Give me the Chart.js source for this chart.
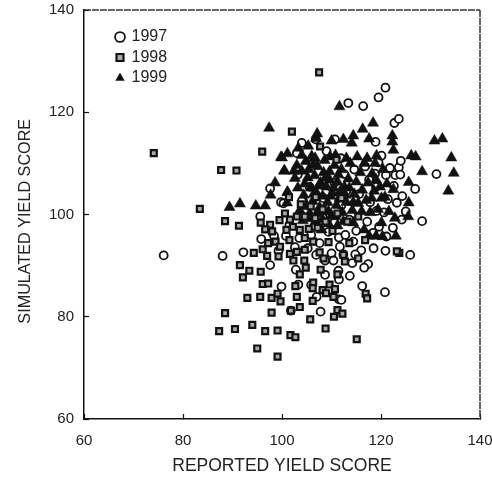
<!DOCTYPE html>
<html>
<head>
<meta charset="utf-8">
<script src="https://cdn.jsdelivr.net/npm/chart.js@4"></script>
<style>
  html, body { margin: 0; padding: 0; background: #fff; }
  #wrap { width: 492px; height: 477px; }
</style>
</head>
<body>
<div id="wrap"><canvas id="yieldChart" width="492" height="477"></canvas></div>
<script>
// values: [reported, simulated]
const years = ['1997', '1998', '1999'];
const xTicks = [60, 80, 100, 120, 140];
const yTicks = [60, 80, 100, 120, 140];

const points1997 = [
  [76.1,92],[88,91.9],[92.2,92.6],[95.8,95.2],[97.6,105.1],[99.8,102.4],[95.6,99.6],[97.6,90.1],[99.9,85.9],[99.3,92.9],
  [101.8,81.2],[102.8,89.2],[103.3,86.3],[103,112],[104,114],[104.3,102.5],[104,102.6],[100.3,102.2],[105.9,86.2],[105.9,96],
  [106.8,114.7],[106.9,92.1],[107,83.9],[107.8,81],[108.7,91],[108.7,88.2],[110,92.4],[110.4,91],[110.7,114.7],[111.4,89],
  [111.5,87.3],[111.5,83.4],[112,83.3],[111.5,95.5],[111.7,93.7],[111.9,111],[112,101.8],[112.6,107.9],[113.4,121.8],[113.7,88],
  [114.2,90.5],[114.4,94.7],[116.2,86],[116.4,121.2],[117.4,90.3],[117.6,106.8],[118.5,93.4],[118.9,114.2],[119.1,100.7],[119.5,122.9],
  [119.5,110.2],[120.1,111.5],[120.8,84.8],[120.9,92.9],[120.9,124.8],[121,107.7],[121.1,95.7],[121.8,109.1],[122.7,117.9],[122.9,107.7],
  [123.2,102.3],[123.6,118.7],[123.6,109.2],[123.9,107.8],[124,110.5],[125.9,92.1],[126.9,105],[128.3,98.7],[131.2,107.9],[124.3,103.6],
  [101.5,98],[103.5,95.4],[105.2,93.4],[106.6,97.8],[108.2,99.4],[109.4,96.6],[110.6,98.4],[112.8,96],[113.6,99],[115,96.8],
  [116,93],[117.2,98.6],[118.4,96.4],[119.6,97.6],[115.6,104],[117.8,102.4],[119,105.4],[121.4,103],[122.6,105.6],[113,104.6],
  [108.4,103.2],[105.6,105.4],[103.2,107.8],[110.6,106.2],[106.2,110],[109,112.4],[114.6,108.8],[116.8,109.4],[118.8,108],[120.6,100.4],
  [122.4,97.4],[124.2,99],[125,100.6],[102.6,93.6],[100.8,95.8],[98.4,95.8],[112.4,92.2],[114.8,92.2],[116.6,89.6],[107.6,94.4]
];

const points1998 = [
  [74.1,112],[83.4,101.1],[87.7,108.7],[90.8,108.6],[96,112.3],[88.5,98.7],[91.3,97.8],[102,116.2],[107.5,127.8],[107.7,113.3],
  [111,110.7],[87.3,77.2],[88.5,80.7],[90.5,77.6],[94,78.4],[96.6,77.2],[99.1,77.3],[95,73.8],[99.1,72.2],[97.9,80.8],
  [101.8,81.2],[101.7,76.4],[102.7,76],[103.6,81.9],[105.7,79.5],[108.8,77.7],[110.5,80],[111.2,81.3],[112.2,80.6],[115.1,75.6],
  [91.5,90.1],[92.1,87.7],[93.4,89],[95.7,88.8],[96.1,86.4],[97.2,86.5],[93,83.7],[95.6,83.9],[97.9,83.7],[99.1,84.5],
  [99.7,83],[103,83.9],[102.7,86],[106.3,86.7],[106.2,85.6],[106.2,83.1],[108.2,85.2],[109.6,86.3],[108.9,84.6],[110.7,85.4],
  [110.4,83.9],[116.9,84.5],[117.2,83.6],[107.8,89.2],[111.2,88.3],[103.6,88.3],[104.8,89.6],[104.5,91],[97,91.9],[94.3,92.5],
  [96.1,93.2],[97.2,94.4],[98.7,94.7],[99.3,91.8],[99.6,93.7],[101.5,95],[101.6,92.3],[102.3,91],[103,92.7],[104.6,93.1],
  [106.3,94.7],[108.4,91.4],[112.4,92.1],[112.7,90.8],[115.4,91.4],[123.7,92.5],[123.2,92.8],[116.8,95],[99.5,98.9],[97.6,98],
  [96.6,97.1],[98,96.7],[95.7,98.4],[100.9,97],[101.6,99],[100.6,100.2],[103,99.6],[104.6,99.6],[106.7,99.3],[102.2,97.6],
  [103.6,97],[105.4,97.2],[107.2,97.4],[108.8,98.6],[110.2,96.8],[105.8,101.6],[108.2,101],[103.8,102],[106.8,103.4],[104.6,95.4],
  [109.4,94.6],[111.2,100.2],[113.2,98.6],[112,103.2],[101.4,103.4],[115.4,99.6],[113.6,94.4],[107.6,92.6]
];

const points1999 = [
  [89.4,101.4],[91.5,102.1],[94.7,101.7],[96.6,101.7],[97.4,116.9],[97.7,103.8],[98.6,106.2],[99.8,111.2],[100.5,108.6],[101.1,111.9],
  [101.1,104.3],[101,102.3],[100,111.1],[100.4,108.5],[102.4,108.5],[102.6,107.1],[101.1,104.4],[103.3,113],[104,111.6],[104,108.5],
  [105.3,113.4],[106.3,109.7],[106.7,111],[106.9,114.9],[107.1,115.8],[109.6,108.4],[109.7,111.3],[110,114.4],[111.6,121.1],[112.4,114.7],
  [114.1,114],[114.4,115.4],[115.2,111.3],[116.3,116.7],[117.6,114.8],[118.4,117.9],[119.1,111.5],[122.3,115.4],[122.3,114.2],[122.5,112.6],
  [122.5,104.9],[125.6,106.3],[125.6,102.3],[125.5,99.6],[122.8,99.3],[123,95.8],[126.1,111.5],[127,111.3],[128.3,108.4],[130.8,114.4],
  [132.4,114.8],[133.6,104.6],[134.2,111.1],[134.7,108.1],[119,95.8],[120.3,95.7],[117.6,95.8],[116.6,97],[114.4,98.4],[120.1,98.4],
  [118.1,103.2],[120.1,103.2],[116.1,100.6],[103.2,105.2],[104.4,103.8],[105.2,107.2],[105.8,105.2],[106.2,102.6],[106.6,107.6],[107,104.2],
  [107.2,109.4],[107.6,101.4],[107.8,106.2],[108.2,103.6],[108.4,108.2],[108.6,100.8],[109,105.4],[109.2,102.4],[109.6,106.8],[110,99.8],
  [110.2,104.2],[110.6,109.6],[111,101.8],[111.2,106.4],[111.6,103.2],[112,108.8],[112.2,100.4],[112.6,105.4],[113,102.4],[113.4,107],
  [113.8,110],[114.2,100.8],[114.6,104],[115,106.4],[115.4,102.2],[115.8,108.2],[116.2,104.8],[116.6,110],[117,102.8],[117.4,106.2],
  [117.8,100.4],[118.2,108],[118.6,104.6],[119,106.8],[119.4,101],[119.8,105.4],[120.4,108.8],[120.8,103.4],[121.2,106],[121.6,100.6],
  [103,109.6],[104.8,110.4],[105.6,100.2],[106.8,98.6],[108,97],[109.4,98.2],[111.2,97.8],[112.4,98.6],[106,111.4],[108.6,110.6],
  [110.8,111.6],[113,111],[117.2,111],[118.8,110],
  [104.6,106],[105.4,108.8],[106.4,104],[107.4,105.6],[108.8,107.2],[109.8,103.6],[110.4,105.2],[111.4,107.8],[112.8,103.8],[113.6,105.2],
  [114.4,102.4],[105,101.6],[106,99.2],[107,100.2],[108.2,99],[109.4,100.6],[110.8,99.6],[111.8,104.6],[103.6,100.8],[104.2,98.8]
];

const blackPen = '#111';

// top and right edges of the frame, the scan leaves them a bit broken
const frameEdges = {
  id: 'frameEdges',
  beforeDraw(chart) {
    // legend sits inside the plot, left of the cloud
    chart.legend.left = chart.chartArea.left + 28;
    chart.legend.top = chart.chartArea.top + 14.5;
  },
  afterDraw(chart) {
    const a = chart.chartArea;
    const ctx = chart.ctx;
    ctx.save();
    ctx.strokeStyle = '#333';
    ctx.lineWidth = 1.5;
    ctx.setLineDash([7, 1]);
    ctx.beginPath();
    ctx.moveTo(a.left, a.top);
    ctx.lineTo(a.right, a.top);
    ctx.moveTo(a.right, a.top);
    ctx.lineTo(a.right, a.bottom);
    ctx.stroke();
    ctx.restore();
  }
};

function toXY(list) {
  return list.map(p => ({ x: p[0], y: p[1] }));
}

const font = { family: '"Liberation Sans", Arial, sans-serif', size: 15 };

new Chart(document.getElementById('yieldChart').getContext('2d'), {
  type: 'scatter',
  data: {
    datasets: [
      {
        label: years[0],
        data: toXY(points1997),
        pointStyle: 'circle',
        pointRadius: 4,
        borderWidth: 1.8,
        pointBorderColor: blackPen,
        pointBackgroundColor: '#fff',
        order: 2
      },
      {
        label: years[1],
        data: toXY(points1998),
        pointStyle: 'rect',
        pointRadius: 4.2,
        borderWidth: 2.2,
        pointBorderColor: blackPen,
        pointBackgroundColor: '#aaa',
        order: 0
      },
      {
        label: years[2],
        data: toXY(points1999),
        pointStyle: 'triangle',
        pointRadius: 6.4,
        borderWidth: 0.5,
        pointBorderColor: blackPen,
        pointBackgroundColor: blackPen,
        order: 1
      }
    ]
  },
  options: {
    responsive: false,
    animation: false,
    layout: { padding: { top: 10, right: 12, left: 0, bottom: 0 } },
    plugins: {
      tooltip: { enabled: false },
      legend: {
        position: 'chartArea',
        align: 'start',
        onClick: null,
        labels: {
          usePointStyle: true,
          color: '#222',
          font: { family: font.family, size: 16 },
          padding: 4.5,
          boxWidth: 7,
          boxHeight: 7,
          generateLabels(chart) {
            return chart.data.datasets.map((d, i) => ({
              text: d.label,
              datasetIndex: i,
              pointStyle: d.pointStyle,
              fillStyle: d.pointBackgroundColor,
              strokeStyle: d.pointBorderColor,
              lineWidth: d.borderWidth,
              fontColor: '#222'
            }));
          }
        }
      }
    },
    scales: {
      x: {
        type: 'linear',
        min: xTicks[0],
        max: xTicks[xTicks.length - 1],
        afterBuildTicks(scale) { scale.ticks = xTicks.map(v => ({ value: v })); },
        afterFit(scale) { scale.height = 58; scale.paddingLeft = 0; scale.paddingRight = 0; },
        border: { color: blackPen, width: 1.5 },
        grid: { drawOnChartArea: false, tickLength: -5, tickColor: blackPen, tickWidth: 1.2 },
        ticks: { color: '#222', font: font, padding: 18, maxRotation: 0 },
        title: { display: true, text: 'REPORTED YIELD SCORE', color: '#222', font: { family: font.family, size: 17.5 }, padding: { top: 8, bottom: 0 } }
      },
      y: {
        type: 'linear',
        min: yTicks[0],
        max: yTicks[yTicks.length - 1],
        afterBuildTicks(scale) { scale.ticks = yTicks.map(v => ({ value: v })); },
        afterFit(scale) { scale.width = 84; scale.paddingTop = 0; scale.paddingBottom = 0; },
        border: { color: blackPen, width: 1.5 },
        grid: { drawOnChartArea: false, tickLength: -5, tickColor: blackPen, tickWidth: 1.2 },
        ticks: { color: '#222', font: font, padding: 15 },
        // trailing spaces push the title down a little, it sits below the axis middle
        title: { display: true, text: 'SIMULATED YIELD SCORE   ', color: '#222', font: { family: font.family, size: 16.2 }, padding: { top: 16, bottom: 0 } }
      }
    }
  },
  plugins: [frameEdges]
});
</script>
</body>
</html>
